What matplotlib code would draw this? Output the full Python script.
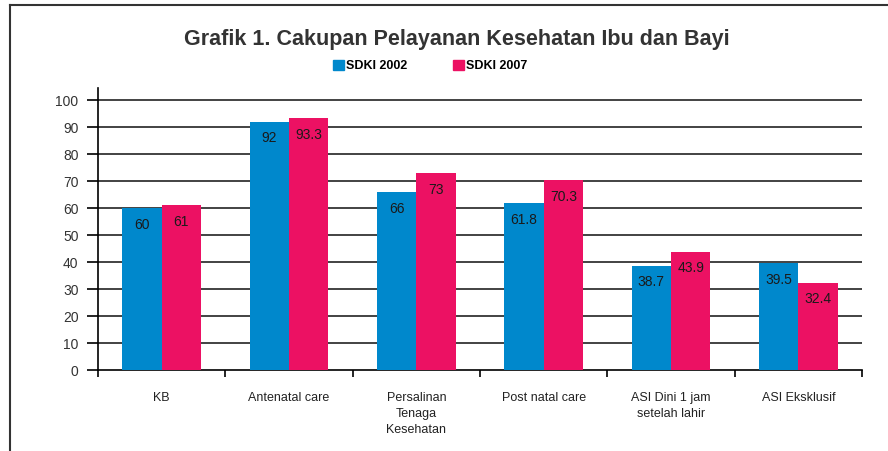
#!/usr/bin/env python3

import matplotlib
matplotlib.use('Agg')
import matplotlib.pyplot as plt
from matplotlib.lines import Line2D
from matplotlib.patches import Patch

import numpy as np

categories = ['KB', 'Antenatal care', 'Persalinan\nTenaga\nKesehatan',
              'Post natal care', 'ASI Dini 1 jam\nsetelah lahir', 'ASI Eksklusif']
sdki_2002 = [60, 92, 66, 61.8, 38.7, 39.5]
sdki_2007 = [61, 93.3, 73, 70.3, 43.9, 32.4]
labels_2002 = ['60', '92', '66', '61.8', '38.7', '39.5']
labels_2007 = ['61', '93.3', '73', '70.3', '43.9', '32.4']
series_names = ['SDKI 2002', 'SDKI 2007']
yticks = list(range(0, 101, 10))

BLUE = '#0088cc'
PINK = '#ec1163'
FONT = ['Liberation Sans', 'DejaVu Sans']


def main():
    plt.rcParams['font.family'] = FONT
    fig = plt.figure(figsize=(8.88, 4.51), dpi=100)
    ax = fig.add_axes([98/888, 1-370/451, 764/888, 282/451])

    x = np.arange(len(categories))
    w = 0.31
    b1 = ax.bar(x - w/2, sdki_2002, w, color=BLUE, zorder=3)
    b2 = ax.bar(x + w/2, sdki_2007, w, color=PINK, zorder=3)

    for bars, labs in [(b1, labels_2002), (b2, labels_2007)]:
        for rect, lab in zip(bars, labs):
            ax.annotate(lab, (rect.get_x() + rect.get_width()/2, rect.get_height()),
                        xytext=(0, -7), textcoords='offset points',
                        ha='center', va='top', fontsize=10, color='#1a1a1a', zorder=4)

    ax.set_xlim(-0.5, len(categories) - 0.5)
    ax.set_ylim(0, 104.5)
    ax.set_yticks(yticks)
    ax.tick_params(axis='y', length=8, width=1.2, labelsize=10, labelcolor='#333333', pad=6)
    for t in yticks[1:]:
        ax.axhline(t, color='#222222', lw=1.2, zorder=1)

    ax.set_xticks(x)
    ax.set_xticklabels(categories, fontsize=9, color='#222222', linespacing=1.45, va='top')
    ax.tick_params(axis='x', length=0, pad=16)
    ax.set_xticks(np.arange(len(categories) + 1) - 0.5, minor=True)
    ax.tick_params(axis='x', which='minor', length=5, width=1.2, direction='out')

    for s in ['top', 'right']:
        ax.spines[s].set_visible(False)
    ax.spines['left'].set_linewidth(1.2)
    ax.spines['bottom'].set_linewidth(1.2)

    fig.text(457/888, 1-40/451, 'Grafik 1. Cakupan Pelayanan Kesehatan Ibu dan Bayi',
             ha='center', va='center', fontsize=15.5, fontweight='bold', color='#333333')

    handles = [Patch(color=BLUE), Patch(color=PINK)]
    fig.legend(handles, series_names, loc='center', bbox_to_anchor=(430/888, 1-66/451),
               ncol=2, frameon=False, handlelength=0.9, handleheight=0.9,
               handletextpad=0.2, columnspacing=3.6,
               prop={'family': FONT, 'weight': 'bold', 'size': 9})

    # outer frame
    fig.add_artist(Line2D([10/888, 10/888], [0, 1-5/451], color='#333333', lw=1.5))
    fig.add_artist(Line2D([10/888, 1], [1-5/451, 1-5/451], color='#333333', lw=1.5))

    fig.savefig('out.png', dpi=100)


if __name__ == "__main__":
    main()
